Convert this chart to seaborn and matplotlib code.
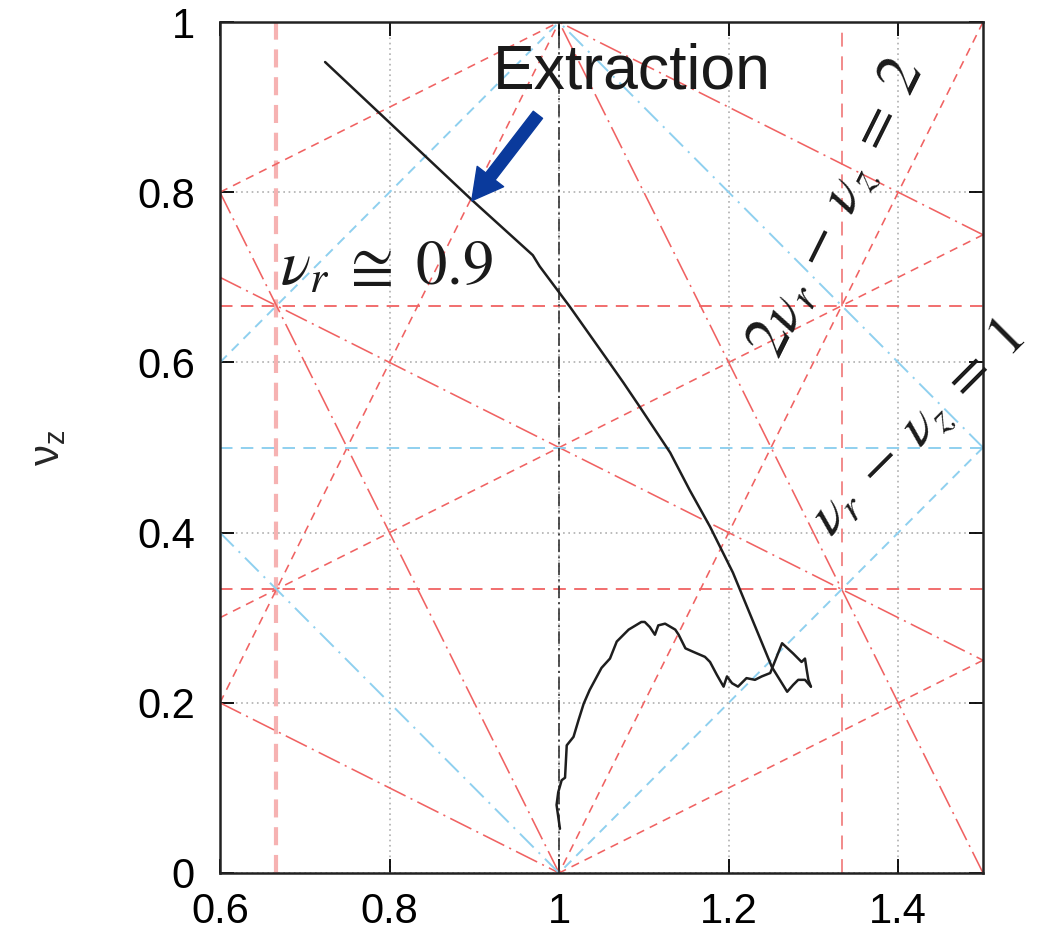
import numpy as np
import matplotlib
matplotlib.use("Agg")
import matplotlib.pyplot as plt
import seaborn as sns

# ---------------- data ----------------
# resonance lines  m*nu_r + n*nu_z = p
res_m = [3, 3, 0, 0, 2, 2, 2, 2, 1, 1, 1, 1, 1, 1, 0, 1, 1, 1, 1, 2]
res_n = [0, 0, 3, 3, 1, 1, -1, -1, 2, 2, 2, -2, -2, -2, 2, 1, 1, -1, -1, 0]
res_p = [2, 4, 1, 2, 2, 3, 1, 2, 1, 2, 3, 0, 1, -1, 1, 1, 2, 0, 1, 2]
res_kind = ["v3a", "v3b", "h3", "h3", "sum3", "sum3", "diff3", "diff3",
            "sum3", "sum3", "sum3", "diff3", "diff3", "diff3",
            "h2", "sum2", "sum2", "diff2", "diff2", "int"]

# measured tune path, smooth part (nu_r, nu_z)
smooth_nur = [0.724, 0.897, 0.969, 0.977, 0.995, 1.013, 1.035, 1.057, 1.076,
              1.095, 1.113, 1.131, 1.154, 1.178, 1.205, 1.251, 1.269, 1.276,
              1.282, 1.290, 1.297]
smooth_nuz = [0.953, 0.791, 0.726, 0.713, 0.689, 0.665, 0.634, 0.603, 0.576,
              0.548, 0.521, 0.494, 0.450, 0.407, 0.353, 0.242, 0.213, 0.221,
              0.227, 0.227, 0.219]

# measured tune path, noisy part (nu_r, nu_z)
noisy_nur = [1.001, 0.997, 0.999, 1.003, 1.007, 1.009, 1.017, 1.023, 1.029,
             1.036, 1.050, 1.060, 1.068, 1.082, 1.097, 1.101, 1.107, 1.113,
             1.117, 1.125, 1.137, 1.141, 1.149, 1.158, 1.172, 1.178, 1.186,
             1.194, 1.198, 1.204, 1.211, 1.221, 1.231, 1.239, 1.249, 1.263,
             1.276, 1.286, 1.290, 1.292, 1.294, 1.297]
noisy_nuz = [0.052, 0.080, 0.095, 0.109, 0.112, 0.150, 0.160, 0.180, 0.199,
             0.215, 0.241, 0.252, 0.272, 0.286, 0.295, 0.295, 0.289, 0.280,
             0.291, 0.293, 0.286, 0.280, 0.264, 0.260, 0.254, 0.248, 0.233,
             0.219, 0.231, 0.223, 0.219, 0.229, 0.227, 0.231, 0.235, 0.270,
             0.258, 0.248, 0.252, 0.239, 0.227, 0.219]

x_ticks = [0.6, 0.8, 1.0, 1.2, 1.4]
x_ticklabels = ["0.6", "0.8", "1", "1.2", "1.4"]
y_ticks = [0, 0.2, 0.4, 0.6, 0.8, 1.0]
y_ticklabels = ["0", "0.2", "0.4", "0.6", "0.8", "1"]
x_range = (0.6, 1.5)
y_range = (0.0, 1.0)

# ---------------- style ----------------
sns.set_style("ticks")
plt.rcParams["font.family"] = ["Liberation Sans", "DejaVu Sans"]
plt.rcParams["mathtext.fontset"] = "stix"
plt.rcParams["lines.scale_dashes"] = False

RED = "#f06262"
PINK = "#f6b2b2"
BLUE = "#8fd0ef"

styles = {
    "v3a":  dict(color=PINK, lw=3.0, linestyle=(0, (13, 7))),
    "v3b":  dict(color="#f28a8a", lw=1.4, linestyle=(0, (10, 7))),
    "h3":   dict(color=RED, lw=1.3, linestyle=(0, (9, 6))),
    "sum3": dict(color=RED, lw=1.15, linestyle=(0, (17, 4, 1.5, 4))),
    "diff3": dict(color=RED, lw=1.15, linestyle=(0, (6, 4.5))),
    "h2":   dict(color=BLUE, lw=1.4, linestyle=(0, (9, 6))),
    "sum2": dict(color=BLUE, lw=1.4, linestyle=(0, (14, 5, 1.5, 5))),
    "diff2": dict(color=BLUE, lw=1.4, linestyle=(0, (7, 5))),
    "int":  dict(color="#333333", lw=1.2, linestyle=(0, (9, 3, 1.5, 3))),
}


def clip_segment(m, n, p):
    """Return the end points of m*x + n*y = p inside the plot box."""
    x0, x1 = x_range
    y0, y1 = y_range
    pts = []
    if n != 0:
        for xe in (x0, x1):
            ye = (p - m * xe) / n
            if y0 - 1e-9 <= ye <= y1 + 1e-9:
                pts.append((xe, ye))
    if m != 0:
        for ye in (y0, y1):
            xe = (p - n * ye) / m
            if x0 - 1e-9 <= xe <= x1 + 1e-9:
                pts.append((xe, ye))
    uniq = []
    for q in pts:
        if all(abs(q[0] - u[0]) > 1e-9 or abs(q[1] - u[1]) > 1e-9 for u in uniq):
            uniq.append(q)
    return uniq[:2]


fig = plt.figure(figsize=(10.43, 9.38), dpi=100)
ax = fig.add_axes([0.2109, 0.0693, 0.7316, 0.9072])

# grid
ax.set_axisbelow(True)
ax.grid(True, color="#a8a8a8", linestyle=(0, (1.2, 2.6)), lw=1.1)

# resonance lines
for m, n, p, k in zip(res_m, res_n, res_p, res_kind):
    seg = clip_segment(m, n, p)
    if len(seg) < 2:
        continue
    xs = [seg[0][0], seg[1][0]]
    ys = [seg[0][1], seg[1][1]]
    sns.lineplot(x=xs, y=ys, sort=False, estimator=None, ax=ax, **styles[k])

# tune path
sns.lineplot(x=smooth_nur, y=smooth_nuz, sort=False, estimator=None, ax=ax,
             color="#1e1e1e", lw=1.8)
sns.lineplot(x=noisy_nur, y=noisy_nuz, sort=False, estimator=None, ax=ax,
             color="#1e1e1e", lw=1.8)

ax.set_xlim(*x_range)
ax.set_ylim(*y_range)
ax.set_xticks(x_ticks)
ax.set_xticklabels(x_ticklabels)
ax.set_yticks(y_ticks)
ax.set_yticklabels(y_ticklabels)
ax.tick_params(direction="in", length=10, width=1.3, top=True, right=True,
               labelsize=30, colors="black")
ax.tick_params(axis="y", pad=18)
ax.tick_params(axis="x", pad=14)
for s in ax.spines.values():
    s.set_linewidth(1.8)
    s.set_color("#222222")
ax.set_xlabel("")
ax.set_ylabel(r"$\mathregular{\nu_z}$", fontsize=30, labelpad=50)

# annotations
ax.text(1.086, 0.941, "Extraction", fontsize=45, ha="center", va="center",
        color="#1a1a1a")
ax.annotate("", xy=(0.897, 0.790), xytext=(0.975, 0.891),
            arrowprops=dict(arrowstyle="simple,head_length=1.1,head_width=1.2,tail_width=0.42",
                            color="#0a3a9c", mutation_scale=20, shrinkA=0, shrinkB=0))
ax.text(0.796, 0.711, r"$\nu_r\;\cong\;0.9$", fontsize=45, ha="center",
        va="center", color="#1a1a1a")
ax.text(1.329, 0.781, r"$2\nu_r\;-\;\nu_z\;=\;2$", fontsize=44, ha="center",
        va="center", rotation=63.5, rotation_mode="anchor", color="#1a1a1a")
ax.text(1.424, 0.521, r"$\nu_r\;-\;\nu_z\;=\;1$", fontsize=42, ha="center",
        va="center", rotation=45, rotation_mode="anchor", color="#1a1a1a",
        clip_on=False)

fig.savefig("out.png", dpi=100)
